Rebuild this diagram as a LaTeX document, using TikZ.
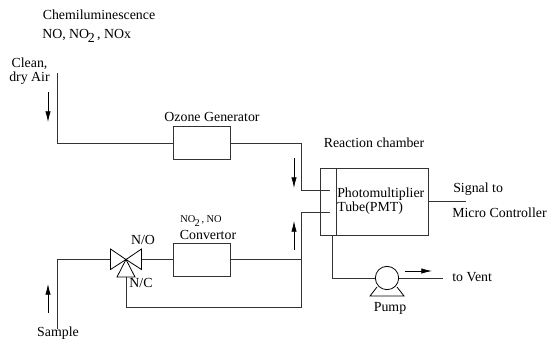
\documentclass[tikz,border=0pt]{standalone}
\usepackage{fontspec}
\setmainfont{Liberation Serif}
\usetikzlibrary{arrows.meta}
\definecolor{linegray}{rgb}{.2,.2,.2}
\newcommand{\lowtwo}{\raisebox{-3.5pt}{2}}
\tikzset{
  pipe/.style={draw=linegray,line width=0.65pt},
  unitbox/.style={draw=linegray,line width=0.75pt,minimum width=42.75pt,minimum height=24.75pt,inner sep=0pt,outer sep=0pt},
  flow/.style={draw=black,line width=0.5pt,-{Latex[length=8pt,width=4pt]}},
  lbl/.style={font=\fontsize{10.4}{10.5}\selectfont,inner sep=0pt},
}

\begin{document}
\begin{tikzpicture}[x=0.75pt,y=0.75pt,yscale=-1,xscale=1]
\path[use as bounding box] (0,0) rectangle (548,340);

%Units
\node [unitbox] (ozone) at (201.5,143) {};
\node [unitbox] (conv) at (201.5,259.5) {};
\node [draw=linegray,line width=0.75pt,minimum width=81pt,minimum height=50.25pt,inner sep=0pt,outer sep=0pt] (chamber) at (374,201.5) {};
\node [draw=black,circle,line width=0.6pt,minimum size=17.5pt,inner sep=0pt,outer sep=0pt] (pump) at (387,278) {};

%Free ends of the pipes
\coordinate (airin) at (57,73);
\coordinate (airbend) at (57,143);
\coordinate (ozonebend) at (301,143);
\coordinate (ozoneend) at (330,190);
\coordinate (convbend) at (301,259.5);
\coordinate (convend) at (330,212);
\coordinate (samplein) at (57,329);
\coordinate (samplebend) at (57,259.5);
\coordinate (valve) at (126,259.5);
\coordinate (valveL) at (110.5,259.5);
\coordinate (valveR) at (141.5,259.5);
\coordinate (valveB) at (126,277);
\coordinate (retcorner) at (126,307);
\coordinate (retend) at (301,307);
\coordinate (chamberout) at (332,235);
\coordinate (pumpbend) at (332,278);
\coordinate (vent) at (443,278);
\coordinate (signal) at (466,201.5);
\coordinate (divtop) at (336,168);
\coordinate (divbot) at (336,235);

%Chamber divider
\draw [pipe] (divtop) -- (divbot);

%Pipes
\draw [pipe] (airin) -- (airbend) -- (ozone.west);
\draw [pipe] (ozone.east) -- (ozonebend) -- (301,190) -- (ozoneend);
\draw [pipe] (samplein) -- (samplebend) -- (valveL);
\draw [pipe] (valveR) -- (conv.west);
\draw [pipe] (conv.east) -- (convbend);
\draw [pipe] (convend) -- (301,212) -- (retend) -- (retcorner) -- (valveB);
\draw [pipe] (chamberout) -- (pumpbend) -- (pump.west);
\draw [pipe] (pump.east) -- (vent);
\draw [pipe] (chamber.east) -- (signal);

%Valve
\draw [draw=black,line width=0.6pt] (valve) -- (110.5,249) -- (110.5,269.5) -- cycle;
\draw [draw=black,line width=0.6pt] (valve) -- (141.5,249) -- (141.5,269.5) -- cycle;
\draw [draw=black,line width=0.6pt] (valve) -- (135,277) -- (117,277) -- cycle;

%Pump base
\draw [draw=black,line width=0.6pt] (377,287) -- (370,296) -- (404,296) -- (397,287);

%Flow arrows
\draw [flow] (48,92) -- (48,122);
\draw [flow] (48,313) -- (48,284);
\draw [flow] (294,158) -- (294,188);
\draw [flow] (294,250) -- (294,221);
\draw [flow] (405,271) -- (432,271);

% Text Node
\node [lbl] (title) at (99,15) {Chemiluminescence};
\node [lbl,anchor=west] (species) at (42,36) {NO, NO\kern-1pt\lowtwo\,, NOx};
\node [lbl,align=center] (airlbl) at (29.5,71) {Clean,\\dry Air};
\node [lbl] (ozonelbl) at (212,117) {Ozone Generator};
\node [lbl] (chamberlbl) at (374,143) {Reaction chamber};
\node [lbl,anchor=west,align=left] (pmtlbl) at (337,201) {Photomultiplier\\Tube(PMT)};
\node [lbl,anchor=west] (signallbl) at (453,189) {Signal to};
\node [lbl,anchor=west] (microlbl) at (452,213) {Micro Controller};
\node [lbl,anchor=west] (ventlbl) at (452,277) {to Vent};
\node [lbl] (pumplbl) at (390,308) {Pump};
\node [lbl] (samplelbl) at (58,333) {Sample};
\node [lbl] (nolbl) at (143,240) {N/O};
\node [lbl] (nclbl) at (141,283) {N/C};
\node [lbl] (convlbl) at (208,235) {Convertor};
\node [lbl,font=\fontsize{7.8}{8}\selectfont] (convgas) at (201,221) {NO\kern-.5pt\raisebox{-2.5pt}{2}\,, NO};

\end{tikzpicture}
\end{document}
